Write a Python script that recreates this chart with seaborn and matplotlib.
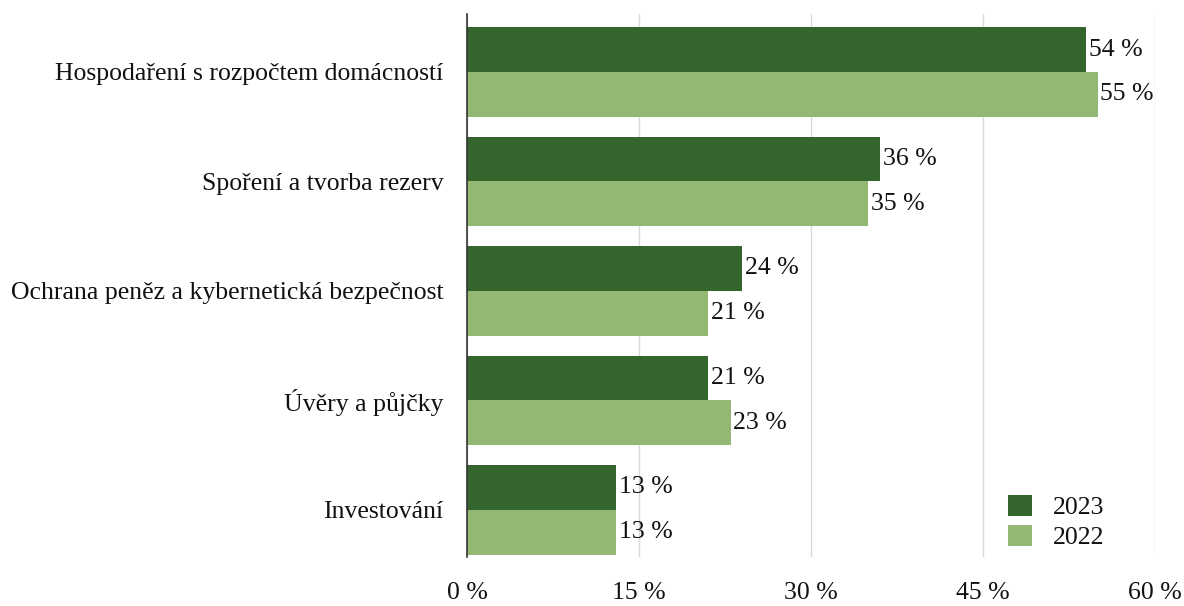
import matplotlib
matplotlib.use("Agg")
import matplotlib.pyplot as plt
import seaborn as sns
import pandas as pd

categories = [
    "Hospodaření s rozpočtem domácností",
    "Spoření a tvorba rezerv",
    "Ochrana peněz a kybernetická bezpečnost",
    "Úvěry a půjčky",
    "Investování",
]
values_2023 = [54, 36, 24, 21, 13]
values_2022 = [55, 35, 21, 23, 13]
years = ["2023", "2022"]
x_ticks = [0, 15, 30, 45, 60]
x_tick_labels = ["0 %", "15 %", "30 %", "45 %", "60 %"]

df = pd.DataFrame({
    "kategorie": categories * 2,
    "podil": values_2023 + values_2022,
    "rok": [years[0]] * len(categories) + [years[1]] * len(categories),
})

sns.set_style("white")
plt.rcParams["font.family"] = ["Liberation Serif", "DejaVu Serif"]
plt.rcParams["text.color"] = "#111111"

FS = 18.5

fig = plt.figure(figsize=(11.84, 6.06), dpi=100)
ax = fig.add_axes([0.3944, 0.0809, 0.9755 - 0.3944, 0.977 - 0.0809])

palette = {"2023": "#33652c", "2022": "#93b874"}
sns.barplot(data=df, y="kategorie", x="podil", hue="rok", hue_order=years,
            order=categories, palette=palette, width=0.82, orient="h",
            saturation=1, linewidth=0, ax=ax, legend=True)

for cont in ax.containers:
    ax.bar_label(cont, labels=[f"{int(v)} %" for v in cont.datavalues],
                 padding=2, fontsize=FS, color="#111111")

ax.set_xlim(0, 60)
ax.set_ylim(4.43, -0.53)
ax.set_xticks(x_ticks)
ax.set_xticklabels(x_tick_labels, fontsize=FS, color="#111111")
ax.tick_params(axis="x", length=0, pad=18)
ax.tick_params(axis="y", length=0, pad=17, labelsize=FS, labelcolor="#111111")
ax.set_xlabel("")
ax.set_ylabel("")
ax.grid(axis="x", color="#d9d9d9", linewidth=1)
ax.set_axisbelow(True)
for side in ["top", "right", "bottom"]:
    ax.spines[side].set_visible(False)
ax.spines["left"].set_color("#333333")
ax.spines["left"].set_linewidth(1.2)

leg = ax.legend(loc="lower right", bbox_to_anchor=(0.96, -0.028), frameon=False,
                fontsize=FS, handlelength=0.93, handleheight=0.9,
                handletextpad=0.8, labelspacing=0.2)

fig.savefig("out.png", dpi=100)
